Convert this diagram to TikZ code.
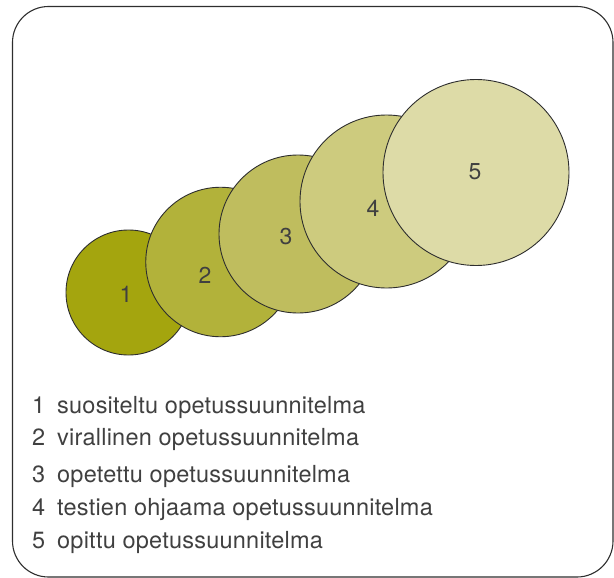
\documentclass[tikz,border=0pt]{standalone}
\usepackage{fontspec}
\setmainfont{TeX Gyre Heros}
\definecolor{txt}{HTML}{404040}
\definecolor{edge}{HTML}{2E2E2E}
\definecolor{cA}{HTML}{A4A50E}
\definecolor{cB}{HTML}{B2B23A}
\definecolor{cC}{HTML}{BFBD5E}
\definecolor{cD}{HTML}{CDCB7E}
\definecolor{cE}{HTML}{DDDBA7}
\begin{document}
\begin{tikzpicture}[x=1pt,y=-1pt,
  ring/.style={circle, draw=edge, line width=0.9pt, inner sep=0pt},
  num/.style={text=txt, font=\fontsize{23}{26}\selectfont, inner sep=0pt},
  legnum/.style={text=txt, font=\fontsize{23.5}{26}\selectfont, inner sep=0pt, anchor=base west},
  legtxt/.style={text=txt, font=\fontsize{23.5}{26}\selectfont\addfontfeatures{LetterSpace=1}, inner sep=0pt, anchor=base west}]
\useasboundingbox (0,0) rectangle (614,578);
\draw[edge, line width=1.1pt, rounded corners=36pt] (12.5,6.5) rectangle (613,577);
% circles
\node[ring, fill=cA, minimum size=125pt] (c1) at (128.5,292.5) {};
\node[ring, fill=cB, minimum size=149.5pt] (c2) at (220.5,262) {};
\node[ring, fill=cC, minimum size=158pt] (c3) at (298,234) {};
\node[ring, fill=cD, minimum size=173pt] (c4) at (386.5,201.5) {};
\node[ring, fill=cE, minimum size=186pt] (c5) at (476,172.5) {};
% circle labels
\node[num] (n1) at (126,294) {1};
\node[num] (n2) at (205,275) {2};
\node[num] (n3) at (286,237) {3};
\node[num] (n4) at (373,208) {4};
\node[num] (n5) at (475,172) {5};
% legend
\node[legnum] (l1) at (32,413) {1};
\node[legtxt] (t1) at (57,413) {suositeltu opetussuunnitelma};
\node[legnum] (l2) at (32,445) {2};
\node[legtxt] (t2) at (57,445) {virallinen opetussuunnitelma};
\node[legnum] (l3) at (32,482) {3};
\node[legtxt] (t3) at (57,482) {opetettu opetussuunnitelma};
\node[legnum] (l4) at (32,515) {4};
\node[legtxt] (t4) at (57,515) {testien ohjaama opetussuunnitelma};
\node[legnum] (l5) at (32,548) {5};
\node[legtxt] (t5) at (57,548) {opittu opetussuunnitelma};
\end{tikzpicture}
\end{document}
